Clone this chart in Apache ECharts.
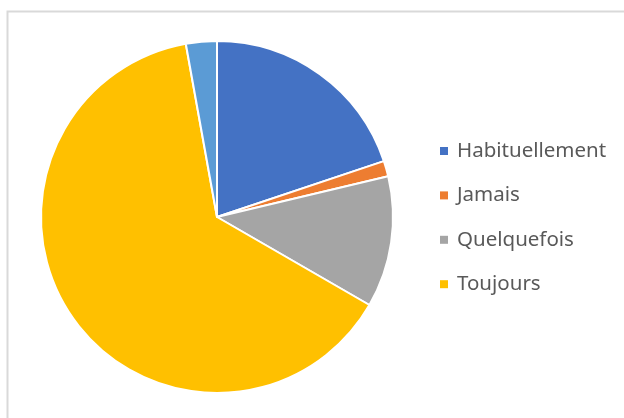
<!DOCTYPE html>
<html>
<head>
<meta charset="utf-8">
<script src="https://cdn.jsdelivr.net/npm/echarts@6/dist/echarts.min.js"></script>
<style>
  html, body { margin: 0; padding: 0; background: #fff; }
  #chart { width: 624px; height: 418px; }
</style>
</head>
<body>
<div id="chart"></div>
<script>
// slices clockwise from 12 o'clock; last one is unlabelled in the legend
const categories = ['Habituellement', 'Jamais', 'Quelquefois', 'Toujours', '(vide)']
const values = [28, 2, 17, 90, 4]
const colors = ['#4472C4', '#ED7D31', '#A5A5A5', '#FFC000', '#5B9BD5']
const legendNames = ['Habituellement', 'Jamais', 'Quelquefois', 'Toujours']

const chart = echarts.init(document.getElementById('chart'))

const option = {
  animation: false,
  color: colors,
  graphic: [
    {
      type: 'rect',
      shape: { x: 7.5, y: 11.5, width: 700, height: 500 },
      style: { fill: 'none', stroke: '#d9d9d9', lineWidth: 2 },
      silent: true,
    },
  ],
  legend: {
    data: legendNames,
    orient: 'vertical',
    left: 440,
    top: 139,
    padding: 0,
    itemWidth: 8,
    itemHeight: 8,
    itemGap: 20.4,
    icon: 'rect',
    itemStyle: { borderWidth: 0 },
    textStyle: {
      color: '#595959',
      fontSize: 20.5,
      lineHeight: 24,
      padding: [0, 0, 0, 4],
      fontFamily: 'Noto Sans',
    },
  },
  series: [
    {
      type: 'pie',
      center: [217, 217],
      radius: [0, 176],
      startAngle: 90,
      clockwise: true,
      label: { show: false },
      labelLine: { show: false },
      itemStyle: { borderColor: '#fff', borderWidth: 2 },
      emphasis: { disabled: true },
      data: categories.map((name, i) => ({ name, value: values[i] })),
    },
  ],
}

chart.setOption(option)
</script>
</body>
</html>
